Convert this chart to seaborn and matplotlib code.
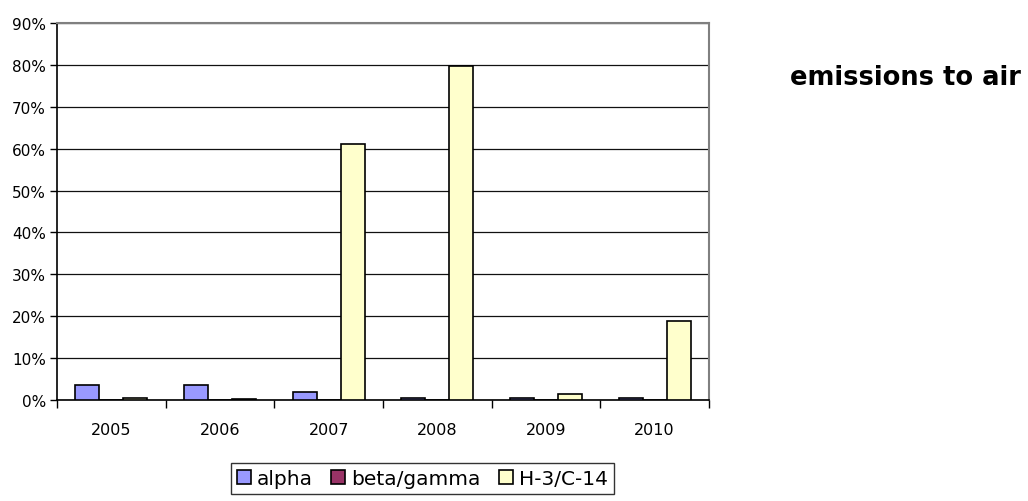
# Bar chart: emissions to air, share per year
import numpy as np
import pandas as pd
import matplotlib
matplotlib.use("Agg")
import matplotlib.pyplot as plt
from matplotlib.ticker import PercentFormatter, FixedLocator
import seaborn as sns

# data (fractions)
years = ["2005", "2006", "2007", "2008", "2009", "2010"]
series = ["alpha", "beta/gamma", "H-3/C-14"]
alpha = [0.037, 0.037, 0.019, 0.005, 0.005, 0.005]
beta_gamma = [0.0, 0.0, 0.0, 0.0, 0.0, 0.0]
h3_c14 = [0.0055, 0.002, 0.611, 0.798, 0.0135, 0.189]
colors = ["#9999FF", "#993366", "#FFFFCC"]

df = pd.DataFrame({
    "year": years * 3,
    "series": [series[0]] * 6 + [series[1]] * 6 + [series[2]] * 6,
    "value": alpha + beta_gamma + h3_c14,
})

sns.set_theme(style="white")
plt.rcParams["font.family"] = ["DejaVu Sans"]
plt.rcParams["text.color"] = "black"
plt.rcParams["xtick.color"] = "black"
plt.rcParams["ytick.color"] = "black"

fig = plt.figure(figsize=(10.28, 5.02), dpi=100)
ax = fig.add_axes([0.0554, 0.2012, 0.6343, 0.7508])

sns.barplot(data=df, x="year", y="value", hue="series", hue_order=series,
            palette=colors, saturation=1, edgecolor="black", linewidth=1.2,
            width=0.66, gap=0, errorbar=None, ax=ax, zorder=3)

ax.set_ylim(0, 0.9)
ax.set_xlim(-0.5, 5.5)
ax.yaxis.set_major_locator(FixedLocator(np.arange(0, 0.91, 0.1)))
ax.yaxis.set_major_formatter(PercentFormatter(1.0, decimals=0))
ax.grid(axis="y", color="#111111", linewidth=0.9, zorder=0)
ax.set_axisbelow(True)
ax.set_xlabel("")
ax.set_ylabel("")

# x ticks sit between the year groups, labels centred under groups
ax.set_xticks(np.arange(-0.5, 6.0, 1.0))
ax.set_xticklabels([])
ax.set_xticks(np.arange(6), minor=True)
ax.set_xticklabels(years, minor=True)
ax.tick_params(axis="x", which="major", direction="out", length=6,
               width=1, color="black", bottom=True)
ax.tick_params(axis="x", which="minor", length=0, pad=16, labelsize=11.5)
ax.tick_params(axis="y", direction="out", length=5, width=1, color="black",
               left=True, labelsize=11, pad=3)

for side in ["left", "bottom"]:
    ax.spines[side].set_color("black")
    ax.spines[side].set_linewidth(1.2)
for side in ["top", "right"]:
    ax.spines[side].set_color("#808080")
    ax.spines[side].set_linewidth(1.5)

handles, labels = ax.get_legend_handles_labels()
ax.get_legend().remove()
leg = fig.legend(handles, labels, loc="upper center",
                 bbox_to_anchor=(0.411, 0.0757), ncol=3, frameon=True,
                 fancybox=False, edgecolor="black", fontsize=14.5,
                 handlelength=0.7, handleheight=0.7, handletextpad=0.3,
                 columnspacing=0.9, borderpad=0.3, borderaxespad=0)
leg.get_frame().set_linewidth(1.0)

fig.text(0.881, 0.845, "emissions to air", ha="center", va="center",
         fontsize=18.5, fontweight="bold")

fig.savefig("out.png", dpi=100)
